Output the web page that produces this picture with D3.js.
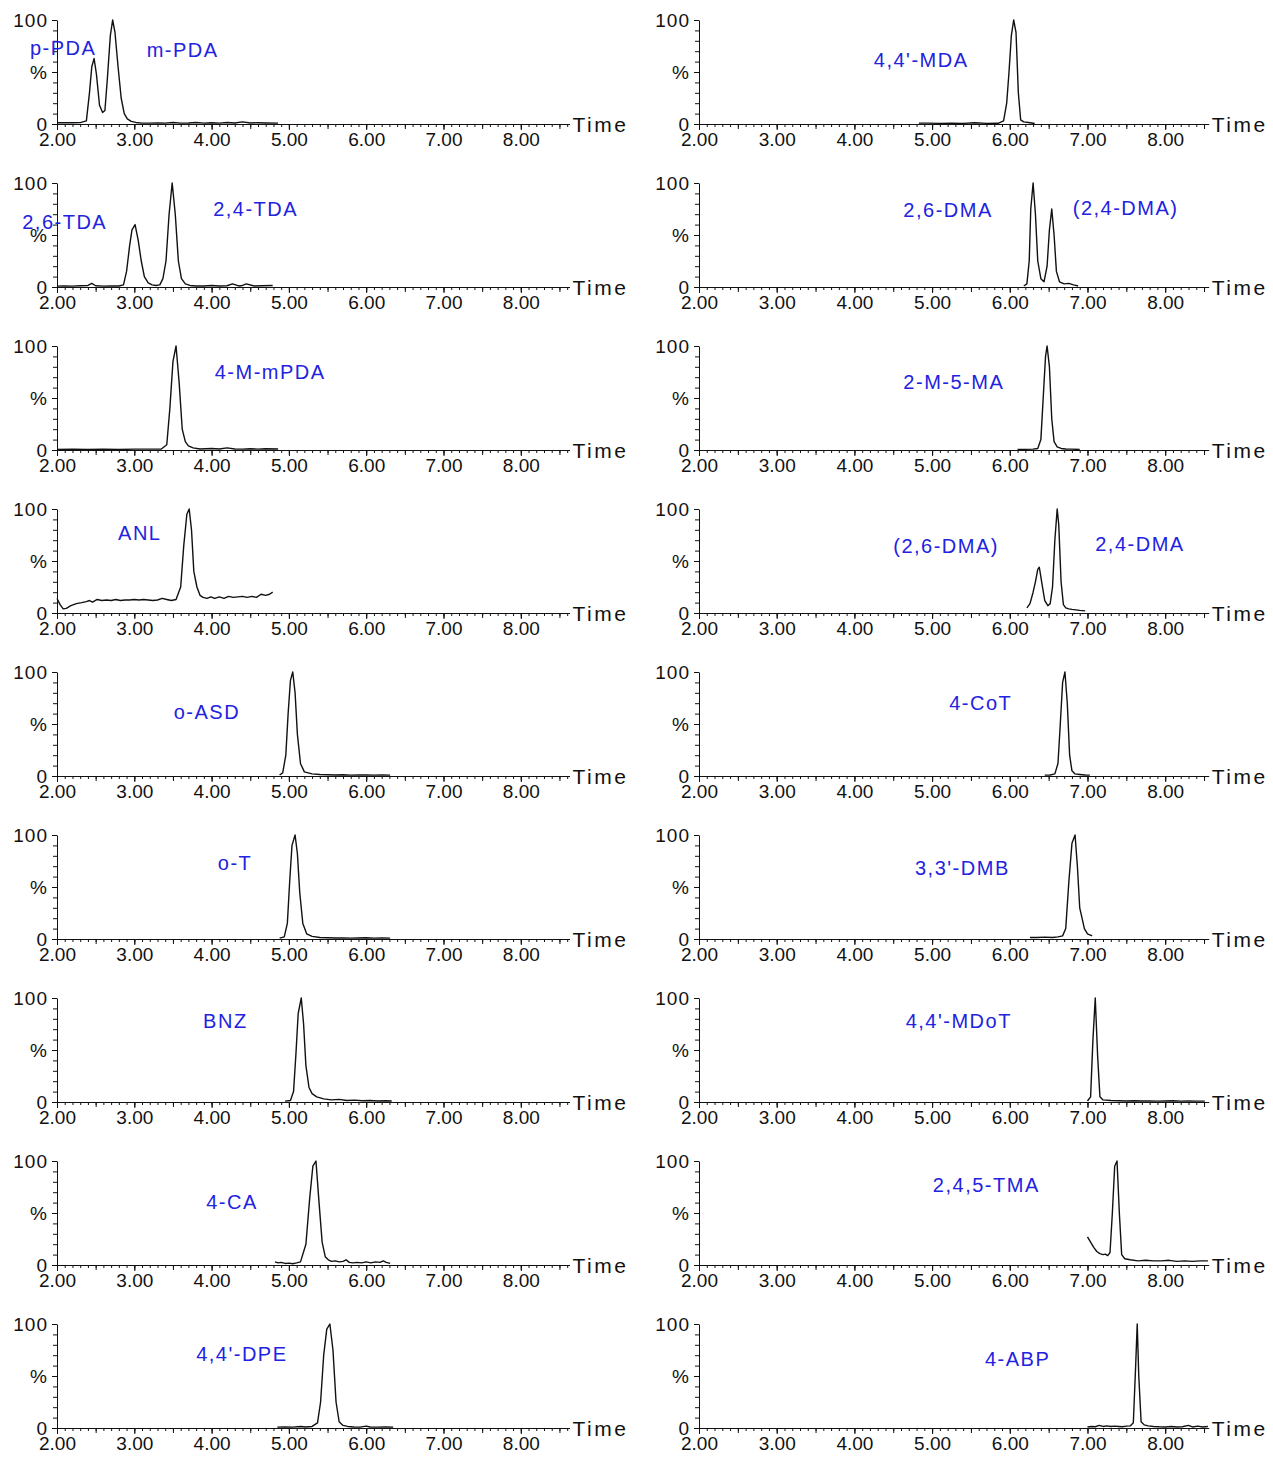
<!DOCTYPE html>
<html>
<head>
<meta charset="utf-8">
<script src="https://cdn.jsdelivr.net/npm/d3@7"></script>
<style>
  body { margin: 0; background: #fff; }
  svg { display: block; }
  text { font-family: "Liberation Sans", Arial, Helvetica, sans-serif; }
</style>
</head>
<body>
<svg width="1273" height="1458"></svg>
<script>
// ---- chromatogram traces: retention time (min) and relative intensity (%) ----
// left column
var tPDA = [2.00,2.10,2.20,2.30,2.38,2.42,2.45,2.48,2.51,2.55,2.59,2.62,2.65,2.69,2.72,2.75,2.79,2.83,2.87,2.91,2.96,3.02,3.10,3.20,3.30,3.40,3.50,3.60,3.70,3.80,3.90,4.00,4.10,4.20,4.30,4.40,4.50,4.60,4.70,4.86];
var vPDA = [1.2,1.2,1.2,1.3,3,30,55,63,48,18,11,13,42,85,100,88,55,25,10,5,2.5,1.5,0.8,0.8,1,0.8,1.5,0.8,1,1.5,0.8,1.2,0.8,1.5,1,2,1,1.2,1,0.8];

var tTDA = [2.00,2.10,2.20,2.30,2.40,2.45,2.50,2.60,2.70,2.80,2.86,2.90,2.94,2.97,3.01,3.05,3.09,3.13,3.18,3.23,3.28,3.33,3.37,3.41,3.45,3.49,3.53,3.57,3.61,3.66,3.72,3.80,3.90,4.00,4.10,4.20,4.27,4.35,4.40,4.45,4.55,4.65,4.79];
var vTDA = [0.8,1,0.8,1.2,1.5,3.5,1.2,0.8,1,1,2,15,40,55,60,45,25,10,4,2,1.5,2,8,25,70,100,70,25,8,3,1.5,1,1,1.5,1,1.2,3,1,1.5,3,1,1.2,1.5];

var tMmPDA = [2.00,2.20,2.40,2.60,2.80,3.00,3.20,3.35,3.42,3.46,3.50,3.54,3.58,3.62,3.66,3.70,3.76,3.85,4.00,4.10,4.20,4.30,4.40,4.50,4.60,4.70,4.86];
var vMmPDA = [0.5,0.8,0.5,0.7,0.5,0.8,0.8,1,5,40,85,100,65,20,8,4,2,1,1.5,1,2,1,0.8,1.2,0.8,1.2,1];

var tANL = [2.00,2.04,2.08,2.12,2.18,2.25,2.32,2.38,2.42,2.46,2.52,2.58,2.64,2.70,2.76,2.82,2.88,2.94,3.00,3.06,3.12,3.18,3.24,3.30,3.36,3.42,3.48,3.54,3.60,3.64,3.68,3.71,3.74,3.77,3.81,3.85,3.89,3.94,3.99,4.04,4.10,4.16,4.22,4.28,4.34,4.40,4.46,4.52,4.58,4.64,4.70,4.75,4.79];
var vANL = [14,8,4,4.5,7,9,10,11,12,10.5,13,12,12.5,12,13,12,12.5,12.5,13,12.5,13,12.5,12,12.5,14,13,12,13,25,65,95,100,80,40,25,17,15,14,15.5,14,15.5,14,16,15,15.5,16,15,16,15,18,17,18,20];

var tASD = [4.88,4.92,4.96,4.99,5.02,5.05,5.08,5.11,5.15,5.20,5.30,5.40,5.50,5.60,5.70,5.80,5.90,6.00,6.10,6.20,6.31];
var vASD = [1,3,20,60,92,100,80,40,12,4,2,1.5,1.2,1,1.2,0.8,1,1,0.8,1,0.8];

var tOT = [4.88,4.94,4.98,5.01,5.04,5.08,5.11,5.14,5.18,5.23,5.30,5.40,5.50,5.60,5.70,5.80,5.90,6.00,6.10,6.20,6.31];
var vOT = [0.8,2,15,55,90,100,82,45,15,5,2.5,1.5,1.2,1,1,0.8,1,1.2,0.8,1,0.8];

var tBNZ = [4.95,5.02,5.06,5.09,5.12,5.16,5.19,5.22,5.26,5.30,5.36,5.45,5.55,5.65,5.75,5.85,5.95,6.05,6.15,6.25,6.33];
var vBNZ = [0.8,1.5,10,45,85,100,75,35,14,8,5,3,2,2.5,1.5,1.8,1.2,1.5,1,1.2,1];

var tCA = [4.82,4.86,4.90,4.95,5.00,5.05,5.10,5.15,5.22,5.27,5.31,5.35,5.39,5.43,5.47,5.51,5.55,5.60,5.65,5.70,5.74,5.78,5.83,5.88,5.94,6.00,6.06,6.12,6.18,6.22,6.26,6.31];
var vCA = [3,2,2.5,1.5,1.8,1.2,2,3,20,65,95,100,60,22,8,5,3.5,4,3,3.5,5,2.5,2,2.5,2,3,2,3,2.5,4,2.5,1.5];

var tDPE = [4.85,4.95,5.05,5.15,5.22,5.30,5.37,5.41,5.45,5.49,5.53,5.57,5.61,5.65,5.70,5.76,5.84,5.92,6.00,6.05,6.15,6.25,6.35];
var vDPE = [0.8,1,0.8,1.5,1,1.5,5,25,70,95,100,75,25,6,2.5,1.5,1,0.8,1.8,1,0.8,1,0.8];

// right column
var tMDA = [4.83,4.95,5.10,5.25,5.40,5.55,5.70,5.85,5.92,5.96,5.99,6.02,6.05,6.08,6.11,6.14,6.18,6.24,6.32];
var vMDA = [0.8,0.8,0.6,0.7,0.6,1.2,0.6,0.7,3,20,50,85,100,88,30,4,2,1.5,0.5];

var tDMA26 = [6.18,6.22,6.25,6.27,6.30,6.33,6.36,6.40,6.44,6.48,6.51,6.54,6.57,6.60,6.64,6.70,6.76,6.82,6.88];
var vDMA26 = [1,3,25,75,100,70,25,8,5,20,55,75,50,15,5,3,3.5,2,1];

var tM5MA = [6.10,6.20,6.30,6.36,6.40,6.43,6.46,6.48,6.51,6.54,6.57,6.61,6.66,6.72,6.80,6.90];
var vM5MA = [0.5,0.6,0.8,1.5,10,50,90,100,80,30,8,3,1.5,1,0.8,0.5];

var tDMA24 = [6.22,6.26,6.30,6.33,6.36,6.38,6.41,6.45,6.49,6.52,6.55,6.58,6.61,6.63,6.66,6.69,6.72,6.76,6.80,6.85,6.90,6.97];
var vDMA24 = [5,9,20,30,42,44,30,12,7,9,25,70,100,85,30,8,5,4,3.5,3,2.5,2];

var tCoT = [6.45,6.52,6.58,6.62,6.65,6.68,6.71,6.74,6.77,6.80,6.84,6.90,6.97,7.03];
var vCoT = [0.8,1,2,12,50,90,100,70,20,5,2,1.5,1,0.8];

var tDMB = [6.26,6.35,6.45,6.55,6.62,6.68,6.72,6.76,6.80,6.84,6.87,6.90,6.93,6.96,7.00,7.06];
var vDMB = [1.5,1.5,1.8,1.5,2,3,10,55,92,100,70,30,20,10,5,3];

var tMDoT = [7.00,7.04,7.07,7.10,7.13,7.16,7.20,7.30,7.40,7.50,7.60,7.70,7.80,7.90,8.00,8.10,8.20,8.30,8.40,8.51];
var vMDoT = [1,5,60,100,45,5,2,1.5,1.2,1,1.2,1,1,0.8,1,1.2,0.8,1,0.8,0.8];

var tTMA = [7.00,7.04,7.08,7.12,7.16,7.20,7.23,7.26,7.29,7.32,7.35,7.38,7.41,7.44,7.48,7.55,7.65,7.75,7.85,7.95,8.05,8.15,8.25,8.35,8.45,8.55];
var vTMA = [27,22,17,13,11,10,10.5,9,12,50,95,100,50,10,6,5,4,4.5,4,4,4.5,3.5,4,3.5,4,4];

var tABP = [7.00,7.05,7.10,7.15,7.20,7.25,7.30,7.35,7.40,7.45,7.50,7.55,7.59,7.62,7.64,7.66,7.69,7.73,7.78,7.85,7.92,8.00,8.08,8.15,8.22,8.30,8.35,8.42,8.48,8.55];
var vABP = [1,1.5,1.2,2.5,1.5,2,1.5,1.8,1.5,1.2,1.8,2,5,60,100,50,6,3,2,1.5,1.2,1,1.5,1,1.2,2.5,1,1.8,1,1.5];

// axis tick labels
var timeTicks = [2, 3, 4, 5, 6, 7, 8];
var yTickLabels = ["0", "%", "100"];

// compound names per panel
var namesLeft = [["p-PDA", "m-PDA"], ["2,6-TDA", "2,4-TDA"], ["4-M-mPDA"], ["ANL"], ["o-ASD"], ["o-T"], ["BNZ"], ["4-CA"], ["4,4'-DPE"]];
var namesRight = [["4,4'-MDA"], ["2,6-DMA", "(2,4-DMA)"], ["2-M-5-MA"], ["(2,6-DMA)", "2,4-DMA"], ["4-CoT"], ["3,3'-DMB"], ["4,4'-MDoT"], ["2,4,5-TMA"], ["4-ABP"]];

// ---- layout ----
var tracesLeft = [[tPDA, vPDA], [tTDA, vTDA], [tMmPDA, vMmPDA], [tANL, vANL], [tASD, vASD], [tOT, vOT], [tBNZ, vBNZ], [tCA, vCA], [tDPE, vDPE]];
var tracesRight = [[tMDA, vMDA], [tDMA26, vDMA26], [tM5MA, vM5MA], [tDMA24, vDMA24], [tCoT, vCoT], [tDMB, vDMB], [tMDoT, vMDoT], [tTMA, vTMA], [tABP, vABP]];

// where each name sits, in (time, %) of its panel
var namePosLeft = [[[1.65, 73], [3.16, 71]], [[1.55, 63], [4.02, 75]], [[4.04, 75]], [[2.79, 77]], [[3.51, 62]], [[4.08, 73]], [[3.89, 78]], [[3.93, 61]], [[3.80, 71]]];
var namePosRight = [[[4.25, 62]], [[4.63, 74], [6.81, 76]], [[4.63, 66]], [[4.50, 65], [7.10, 67]], [[5.22, 70]], [[4.78, 68]], [[4.66, 78]], [[5.01, 77]], [[5.68, 67]]];

var columns = [
    { x0: 57, x1: 569.5, tMax: 8.63, traces: tracesLeft, names: namesLeft, pos: namePosLeft },
    { x0: 699, x1: 1208.7, tMax: 8.56, traces: tracesRight, names: namesRight, pos: namePosRight }
];
var rowTop = 20, rowStep = 163, plotH = 104;

var svg = d3.select("svg");
svg.append("rect").attr("width", 1273).attr("height", 1458).attr("fill", "#fff");

columns.forEach(function (col) {
    col.traces.forEach(function (tr, row) {
        var top = rowTop + row * rowStep,
            base = top + plotH;

        var x = d3.scaleLinear().domain([2, col.tMax]).range([col.x0, col.x1]),
            y = d3.scaleLinear().domain([0, 100]).range([base, top]);

        var g = svg.append("g");

        //minor time ticks every 0.1
        var minor = d3.range(20, Math.floor(col.tMax * 10) + 1).map(function (d) { return d / 10; });
        g.append("g")
            .attr("transform", "translate(0," + base + ")")
            .call(d3.axisBottom(x).tickValues(minor).tickSize(3).tickSizeOuter(0).tickFormat(""))
            .attr("color", "#111");

        //half-minute ticks
        var half = minor.filter(function (d) { return Math.abs(d * 2 - Math.round(d * 2)) < 1e-6; });
        g.append("g")
            .attr("transform", "translate(0," + base + ")")
            .call(d3.axisBottom(x).tickValues(half).tickSize(5).tickSizeOuter(0).tickFormat(""))
            .attr("color", "#111")
            .call(function (a) { a.select(".domain").remove(); });

        //labelled ticks
        g.append("g")
            .attr("transform", "translate(0," + base + ")")
            .call(d3.axisBottom(x).tickValues(timeTicks).tickSize(6).tickPadding(3).tickFormat(d3.format(".2f")))
            .attr("color", "#111")
            .attr("font-size", "19px")
            .attr("font-family", null)
            .call(function (a) { a.select(".domain").remove(); });

        //intensity axis
        g.append("g")
            .attr("transform", "translate(" + col.x0 + ",0)")
            .call(d3.axisLeft(y).tickValues(d3.range(0, 101, 10)).tickSize(4).tickSizeOuter(0).tickFormat(""))
            .attr("color", "#111");
        g.append("g")
            .attr("transform", "translate(" + col.x0 + ",0)")
            .call(d3.axisLeft(y).tickValues([0, 50, 100]).tickSize(5).tickPadding(4)
                .tickFormat(function (d, i) { return yTickLabels[i]; }))
            .attr("color", "#111")
            .attr("font-size", "19px")
            .attr("font-family", null)
            .attr("letter-spacing", "1px")
            .call(function (a) { a.select(".domain").remove(); });

        g.append("text")
            .attr("x", col.x1 + 3)
            .attr("y", base + 7.5)
            .attr("font-size", "21px")
            .attr("letter-spacing", "2.5px")
            .attr("fill", "#111")
            .text("Time");

        //chromatogram
        var t = tr[0], v = tr[1];
        var line = d3.line()
            .x(function (d) { return x(t[d]); })
            .y(function (d) { return y(v[d]); });
        g.append("path")
            .attr("d", line(d3.range(t.length)))
            .attr("fill", "none")
            .attr("stroke", "#111")
            .attr("stroke-width", 1.4)
            .attr("stroke-linejoin", "round");

        //compound names
        col.names[row].forEach(function (name, k) {
            var p = col.pos[row][k];
            g.append("text")
                .attr("x", x(p[0]))
                .attr("y", y(p[1]))
                .attr("dy", "0.36em")
                .attr("font-size", "20px")
                .attr("letter-spacing", "1.5px")
                .attr("fill", "#2222e0")
                .text(name);
        });
    });
});
</script>
</body>
</html>
